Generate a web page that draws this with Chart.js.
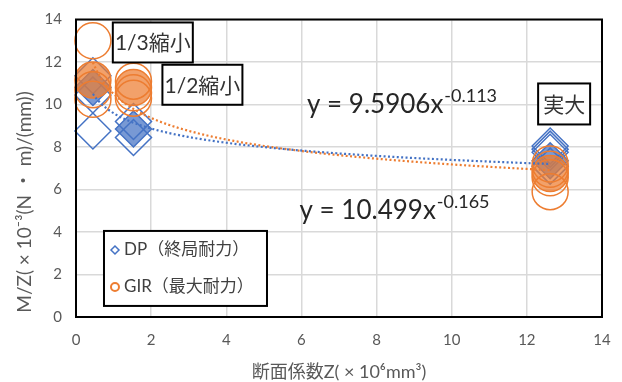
<!DOCTYPE html>
<html><head><meta charset="utf-8">
<script src="https://cdn.jsdelivr.net/npm/chart.js@4/dist/chart.umd.min.js"></script>
<style>html,body{margin:0;padding:0;background:#fff}canvas{display:block}</style>
</head><body>
<canvas id="c" width="622" height="382"></canvas>
<script>
const FONT = "Lato, 'Noto Sans CJK JP', sans-serif";
const BLUE = '#4472C4';
const ORANGE = '#ED7D31';
const TEXT = '#595959';

// DP（終局耐力）: 断面係数 Z [×10^6 mm^3] と M/Z
const dpZ      = [0.45, 0.45, 0.45, 0.45, 1.53, 1.53, 1.53, 12.62, 12.62, 12.62, 12.62, 12.62];
const dpMZ     = [11.35, 10.8, 10.45, 8.75, 9.2, 8.85, 8.45, 8.05, 7.9, 7.75, 7.35, 7.1];
const dpFilled = [0, 1, 0, 0, 0, 1, 0, 0, 0, 0, 1, 0];

// GIR（最大耐力）
const girZ      = [0.45, 0.45, 0.45, 0.45, 1.53, 1.53, 1.53, 1.53, 12.62, 12.62, 12.62, 12.62, 12.62];
const girMZ     = [13.0, 11.15, 10.7, 10.25, 11.1, 10.8, 10.55, 10.3, 7.2, 6.95, 6.75, 6.55, 5.9];
const girFilled = [0, 1, 0, 0, 0, 1, 0, 0, 0, 0, 1, 0, 0];

// 累乗近似式 y = a·x^b
const fitA = [9.5906, 10.499];
const fitB = [-0.113, -0.165];
const fitLabelA = ['9.5906', '10.499'];
const fitLabelB = ['-0.113', '-0.165'];

const seriesNames = ['DP（終局耐力）', 'GIR（最大耐力）'];
const groupLabels = ['1/3縮小', '1/2縮小', '実大'];
const axisTicks = [0, 2, 4, 6, 8, 10, 12, 14];
const xTitle = '断面係数Z( × 10⁶mm³)';
const yTitle = 'M/Z( × 10⁻³(N ・ m)/(mm))';

const pts = (xs, ys) => xs.map((x, i) => ({x, y: ys[i]}));

function fitCurve(k, xs) {
  const lo = Math.min(...xs), hi = Math.max(...xs);
  const out = [];
  const n = 120;
  for (let i = 0; i <= n; i++) {
    const x = lo + (hi - lo) * i / n;
    out.push({x, y: fitA[k] * Math.pow(x, fitB[k])});
  }
  return out;
}

const fadeBlue = 'rgba(68,114,196,0.72)';
const fadeOrange = 'rgba(237,125,49,0.72)';

// label anchors in data units (left/top of box), box sizes in px
const boxes = [
  {text: groupLabels[0], x: 0.98, y: 13.86, w: 80, h: 40},
  {text: groupLabels[1], x: 2.30, y: 11.87, w: 80, h: 40},
  {text: groupLabels[2], x: 12.30, y: 10.99, w: 52, h: 41}
];
const eqPos = [{x: 6.15, y: 9.61}, {x: 5.95, y: 4.62}];
const legendPos = {x: 0.745, y: 4.05, w: 163, h: 75};

const overlay = {
  id: 'overlay',
  afterDatasetsDraw(chart) {
    const {ctx, chartArea: a, scales: {x: sx, y: sy}} = chart;
    ctx.save();
    // plot frame
    ctx.strokeStyle = '#000';
    ctx.lineWidth = 2;
    ctx.strokeRect(a.left, a.top, a.right - a.left, a.bottom - a.top);

    // group labels
    ctx.textBaseline = 'middle';
    ctx.textAlign = 'center';
    ctx.font = '21px ' + FONT;
    boxes.forEach(b => {
      const px = sx.getPixelForValue(b.x), py = sy.getPixelForValue(b.y);
      ctx.fillStyle = '#fff';
      ctx.fillRect(px, py, b.w, b.h);
      ctx.lineWidth = 2;
      ctx.strokeStyle = '#000';
      ctx.strokeRect(px, py, b.w, b.h);
      ctx.fillStyle = '#333';
      ctx.fillText(b.text, px + b.w / 2, py + b.h / 2 + 1);
    });

    // fitted equations
    ctx.textAlign = 'left';
    ctx.textBaseline = 'alphabetic';
    eqPos.forEach((p, k) => {
      const px = sx.getPixelForValue(p.x), py = sy.getPixelForValue(p.y);
      ctx.fillStyle = '#262626';
      ctx.font = '26px ' + FONT;
      const main = 'y = ' + fitLabelA[k] + 'x';
      ctx.fillText(main, px, py);
      const w = ctx.measureText(main).width;
      ctx.font = '18px ' + FONT;
      ctx.fillText(fitLabelB[k], px + w + 1, py - 11);
    });

    // legend
    const lx = sx.getPixelForValue(legendPos.x), ly = sy.getPixelForValue(legendPos.y);
    ctx.fillStyle = '#fff';
    ctx.fillRect(lx, ly, legendPos.w, legendPos.h);
    ctx.lineWidth = 2;
    ctx.strokeStyle = '#000';
    ctx.strokeRect(lx, ly, legendPos.w, legendPos.h);
    ctx.font = '17px ' + FONT;
    ctx.textBaseline = 'middle';
    const rows = [ly + 19, ly + 56];
    ctx.lineWidth = 1.5;
    ctx.strokeStyle = BLUE;
    ctx.beginPath();
    const dx = lx + 11, dy = rows[0];
    ctx.moveTo(dx - 4, dy); ctx.lineTo(dx, dy - 4); ctx.lineTo(dx + 4, dy); ctx.lineTo(dx, dy + 4); ctx.closePath();
    ctx.stroke();
    ctx.lineWidth = 2;
    ctx.strokeStyle = ORANGE;
    ctx.beginPath();
    ctx.arc(lx + 11, rows[1], 4, 0, Math.PI * 2);
    ctx.stroke();
    ctx.fillStyle = '#404040';
    ctx.fillText(seriesNames[0], lx + 20, rows[0]);
    ctx.fillText(seriesNames[1], lx + 20, rows[1]);

    // axis titles
    ctx.fillStyle = TEXT;
    ctx.font = '18px ' + FONT;
    ctx.textAlign = 'center';
    ctx.fillText(xTitle, (a.left + a.right) / 2, 372);
    ctx.translate(25, 202);
    ctx.rotate(-Math.PI / 2);
    ctx.font = '19px ' + FONT;
    ctx.fillText(yTitle, 0, 0);
    ctx.restore();
  }
};

new Chart(document.getElementById('c'), {
  type: 'scatter',
  data: {
    datasets: [
      {
        label: 'fitDP', data: fitCurve(0, dpZ), showLine: true, pointRadius: 0,
        borderColor: BLUE, borderWidth: 2.2, borderDash: [2, 2.4], order: 0, clip: false
      },
      {
        label: 'fitGIR', data: fitCurve(1, girZ), showLine: true, pointRadius: 0,
        borderColor: ORANGE, borderWidth: 2.2, borderDash: [2, 2.4], order: 0, clip: false
      },
      {
        label: seriesNames[1], data: pts(girZ, girMZ), pointStyle: 'circle', pointRadius: 18,
        pointBorderWidth: 1.5, pointBorderColor: ORANGE,
        pointBackgroundColor: girFilled.map(f => f ? fadeOrange : 'rgba(0,0,0,0)'),
        order: 1, clip: false
      },
      {
        label: seriesNames[0], data: pts(dpZ, dpMZ), pointStyle: 'rectRot', pointRadius: 18,
        pointBorderWidth: 1.5, pointBorderColor: BLUE,
        pointBackgroundColor: dpFilled.map(f => f ? fadeBlue : 'rgba(0,0,0,0)'),
        order: 2, clip: false
      }
    ]
  },
  options: {
    responsive: false,
    animation: false,
    events: [],
    layout: {padding: {top: 13, right: 20, left: 0, bottom: 0}},
    plugins: {legend: {display: false}, tooltip: {enabled: false}},
    scales: {
      x: {
        min: 0, max: 14,
        afterBuildTicks: s => { s.ticks = axisTicks.map(v => ({value: v})); },
        afterFit: s => { s.height = 65; s.paddingLeft = 0; s.paddingRight = 0; },
        grid: {color: '#d9d9d9', lineWidth: 1.5, drawTicks: false},
        border: {display: false},
        ticks: {color: TEXT, font: {family: FONT, size: 15}, padding: 14, maxRotation: 0}
      },
      y: {
        min: 0, max: 14,
        afterBuildTicks: s => { s.ticks = axisTicks.map(v => ({value: v})); },
        afterFit: s => { s.width = 76; s.paddingTop = 0; s.paddingBottom = 0; },
        grid: {color: '#d9d9d9', lineWidth: 1.5, drawTicks: false},
        border: {display: false},
        ticks: {color: TEXT, font: {family: FONT, size: 15}, padding: 14}
      }
    }
  },
  plugins: [overlay]
});
</script>
</body></html>
